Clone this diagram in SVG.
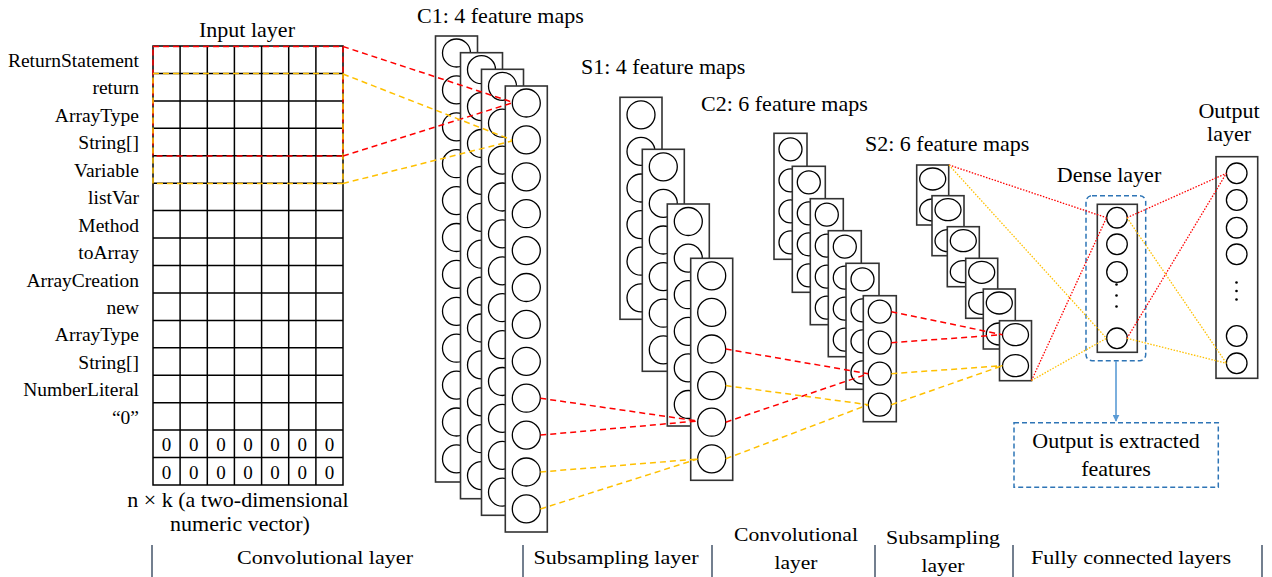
<svg xmlns="http://www.w3.org/2000/svg" xmlns:xlink="http://www.w3.org/1999/xlink" width="1272" height="577" viewBox="0 0 1272 577">
<style>
text{font-family:"Liberation Serif","Times New Roman",serif;fill:#000}
.lbl{font-size:19.5px;text-anchor:end}
.hd{font-size:22px}
.mid{text-anchor:middle}
.zero{font-size:19px;text-anchor:middle}
.bot{font-size:19px;text-anchor:middle}
.grid{fill:none;stroke:#000;stroke-width:1.5}
.map{fill:#fff;stroke:#333;stroke-width:1.6}
.cir{fill:none;stroke:#000;stroke-width:1.3}
.rd{fill:none;stroke:#ff0000;stroke-width:1.5;stroke-dasharray:6 4}
.og{fill:none;stroke:#ffc000;stroke-width:1.5;stroke-dasharray:6 4}
.rdot{fill:none;stroke:#ff0000;stroke-width:1.3;stroke-dasharray:1.5 1.5}
.odot{fill:none;stroke:#ffc000;stroke-width:1.3;stroke-dasharray:1.5 1.5}
.bar{stroke:#44546a;stroke-width:1.5}
.blue{fill:none;stroke:#2e75b6;stroke-width:1.5;stroke-dasharray:5 3}
</style>
<defs>
<g id="c1map">
<rect class="map" x="0" y="0" width="42" height="446"/>
<circle class="cir" cx="21" cy="17" r="14"/><circle class="cir" cx="21" cy="53.9" r="14"/><circle class="cir" cx="21" cy="90.8" r="14"/><circle class="cir" cx="21" cy="127.7" r="14"/><circle class="cir" cx="21" cy="164.6" r="14"/><circle class="cir" cx="21" cy="201.5" r="14"/><circle class="cir" cx="21" cy="238.4" r="14"/><circle class="cir" cx="21" cy="275.3" r="14"/><circle class="cir" cx="21" cy="312.2" r="14"/><circle class="cir" cx="21" cy="349.1" r="14"/><circle class="cir" cx="21" cy="386" r="14"/><circle class="cir" cx="21" cy="422.9" r="14"/>
</g>
<g id="s1map">
<rect class="map" x="0" y="0" width="42" height="222"/>
<circle class="cir" cx="21" cy="17.5" r="14"/><circle class="cir" cx="21" cy="54.1" r="14"/><circle class="cir" cx="21" cy="90.7" r="14"/><circle class="cir" cx="21" cy="127.3" r="14"/><circle class="cir" cx="21" cy="163.9" r="14"/><circle class="cir" cx="21" cy="200.5" r="14"/>
</g>
<g id="c2map">
<rect class="map" x="0" y="0" width="33" height="126"/>
<circle class="cir" cx="16.5" cy="16" r="11.5"/><circle class="cir" cx="16.5" cy="47" r="11.5"/><circle class="cir" cx="16.5" cy="78" r="11.5"/><circle class="cir" cx="16.5" cy="109" r="11.5"/>
</g>
<g id="s2map">
<rect class="map" x="0" y="0" width="32" height="60"/>
<ellipse class="cir" cx="16" cy="14" rx="13" ry="11"/><ellipse class="cir" cx="16" cy="45" rx="13" ry="11"/>
</g>
<marker id="arr" viewBox="0 0 10 10" refX="9" refY="5" markerWidth="7" markerHeight="7" orient="auto" markerUnits="userSpaceOnUse">
<path d="M0,0 L10,5 L0,10 z" fill="#5b9bd5"/>
</marker>
</defs>

<g id="input-layer">
<text class="hd mid" x="247" y="37">Input layer</text>
<rect class="grid" x="153" y="46" width="190" height="439"/>
<path class="grid" d="M180.1,46V485M207.3,46V485M234.4,46V485M261.6,46V485M288.7,46V485M315.9,46V485
M153,73.4H343M153,100.9H343M153,128.3H343M153,155.8H343M153,183.2H343M153,210.6H343M153,238.1H343M153,265.5H343M153,292.9H343M153,320.4H343M153,347.8H343M153,375.3H343M153,402.7H343M153,430.1H343M153,457.6H343"/>
<rect class="rd" x="153" y="46.5" width="190" height="109.5"/>
<rect class="og" x="153" y="73.5" width="190" height="110"/>
<text class="lbl" x="139" y="66.5">ReturnStatement</text>
<text class="lbl" x="139" y="94">return</text>
<text class="lbl" x="139" y="121.5">ArrayType</text>
<text class="lbl" x="139" y="149">String[]</text>
<text class="lbl" x="139" y="176.5">Variable</text>
<text class="lbl" x="139" y="204">listVar</text>
<text class="lbl" x="139" y="231.5">Method</text>
<text class="lbl" x="139" y="259">toArray</text>
<text class="lbl" x="139" y="286.5">ArrayCreation</text>
<text class="lbl" x="139" y="313.5">new</text>
<text class="lbl" x="139" y="341">ArrayType</text>
<text class="lbl" x="139" y="368.5">String[]</text>
<text class="lbl" x="139" y="396">NumberLiteral</text>
<text class="lbl" x="139" y="423.5">“0”</text>
<text class="zero" x="166.6" y="451">0</text><text class="zero" x="193.7" y="451">0</text><text class="zero" x="220.9" y="451">0</text><text class="zero" x="248" y="451">0</text><text class="zero" x="275.1" y="451">0</text><text class="zero" x="302.3" y="451">0</text><text class="zero" x="329.4" y="451">0</text>
<text class="zero" x="166.6" y="478.5">0</text><text class="zero" x="193.7" y="478.5">0</text><text class="zero" x="220.9" y="478.5">0</text><text class="zero" x="248" y="478.5">0</text><text class="zero" x="275.1" y="478.5">0</text><text class="zero" x="302.3" y="478.5">0</text><text class="zero" x="329.4" y="478.5">0</text>
<text class="hd mid" x="238" y="507">n × k (a two-dimensional</text>
<text class="hd mid" x="240" y="531">numeric vector)</text>
</g>

<g id="c1-layer">
<text class="hd" x="417" y="23">C1: 4 feature maps</text>
<use xlink:href="#c1map" x="435.5" y="36"/>
<use xlink:href="#c1map" x="460.5" y="52.7"/>
<use xlink:href="#c1map" x="481.5" y="69.3"/>
<use xlink:href="#c1map" x="505.3" y="86"/>
</g>

<g id="s1-layer">
<text class="hd" x="581" y="74">S1: 4 feature maps</text>
<use xlink:href="#s1map" x="620" y="97.3"/>
<use xlink:href="#s1map" x="642.3" y="149.3"/>
<use xlink:href="#s1map" x="667.3" y="204"/>
<use xlink:href="#s1map" x="690.7" y="258.3"/>
</g>

<g id="c2-layer">
<text class="hd" x="701" y="111">C2: 6 feature maps</text>
<use xlink:href="#c2map" x="774" y="133.3"/>
<use xlink:href="#c2map" x="792.3" y="166.3"/>
<use xlink:href="#c2map" x="810.3" y="198.7"/>
<use xlink:href="#c2map" x="828.3" y="230.7"/>
<use xlink:href="#c2map" x="846" y="263.3"/>
<use xlink:href="#c2map" x="863.3" y="295.7"/>
</g>

<g id="s2-layer">
<text class="hd" x="865" y="151">S2: 6 feature maps</text>
<use xlink:href="#s2map" x="916.7" y="165"/>
<use xlink:href="#s2map" x="932" y="195.7"/>
<use xlink:href="#s2map" x="947.3" y="226.7"/>
<use xlink:href="#s2map" x="965.7" y="258.3"/>
<use xlink:href="#s2map" x="983.3" y="289"/>
<use xlink:href="#s2map" x="999.5" y="320.7"/>
</g>

<g id="dense-layer">
<text class="hd mid" x="1109" y="182">Dense layer</text>
<rect class="blue" x="1086" y="195.7" width="59.7" height="165" rx="6"/>
<rect class="map" x="1097.3" y="204.3" width="40" height="148"/>
<circle class="cir" cx="1117" cy="217.7" r="10.3"/>
<circle class="cir" cx="1117" cy="244.3" r="10.3"/>
<circle class="cir" cx="1117" cy="272" r="10.3"/>
<circle cx="1116.5" cy="284.5" r="1.3"/><circle cx="1116.5" cy="295.5" r="1.3"/><circle cx="1116.5" cy="306.5" r="1.3"/>
<circle class="cir" cx="1117" cy="338.3" r="10.3"/>
</g>

<g id="output-layer">
<text class="hd mid" x="1229" y="118">Output</text>
<text class="hd mid" x="1229" y="141">layer</text>
<rect class="map" x="1216" y="156.7" width="41.7" height="221.6"/>
<circle class="cir" cx="1236.7" cy="173.3" r="10.3"/>
<circle class="cir" cx="1236.7" cy="200" r="10.3"/>
<circle class="cir" cx="1236.7" cy="227.7" r="10.3"/>
<circle class="cir" cx="1236.7" cy="254.3" r="10.3"/>
<circle cx="1236.5" cy="282.5" r="1.3"/><circle cx="1236.5" cy="291" r="1.3"/><circle cx="1236.5" cy="299.5" r="1.3"/>
<circle class="cir" cx="1236.7" cy="336" r="10.3"/>
<circle class="cir" cx="1236.7" cy="363.3" r="10.3"/>
</g>

<g id="extracted-features">
<rect class="blue" x="1014" y="422.7" width="204.3" height="64.6"/>
<text class="hd mid" x="1116" y="448">Output is extracted</text>
<text class="hd mid" x="1116" y="476">features</text>
</g>

<g id="connectors">
<path class="rd" d="M343,46.5L512,102M343,156L512,103"/>
<path class="og" d="M343,74L512,140M343,183.5L512,141"/>
<path class="rd" d="M540.3,398.2L697.7,421M540.3,435.1L697.7,421"/>
<path class="og" d="M540.3,472L697.7,459M540.3,509L697.7,459"/>
<path class="rd" d="M725.7,349L868.3,373.7M725.7,422.2L868.3,373.7"/>
<path class="og" d="M725.7,385.6L868.3,404.7M725.7,458.8L868.3,404.7"/>
<path class="rd" d="M891.3,311.7L1002.5,334.7M891.3,342.7L1002.5,334.7"/>
<path class="og" d="M891.3,373.7L1002.5,365.7M891.3,404.7L1002.5,365.7"/>
<path class="rdot" d="M949,165L1106.5,217.7M1031.5,380.5L1106.5,217.7M1127,217.7L1226.4,173.3M1127,338.3L1226.4,173.3"/>
<path class="odot" d="M949,165L1106.5,338.3M1031.5,380.5L1106.5,338.3M1127,217.7L1226.4,363.3M1127,338.3L1226.4,363.3"/>
<line x1="1116" y1="361" x2="1116" y2="421" stroke="#5b9bd5" stroke-width="1.6" marker-end="url(#arr)"/>
</g>

<g id="stage-labels">
<line class="bar" x1="152" y1="545" x2="152" y2="577"/>
<line class="bar" x1="523" y1="545" x2="523" y2="577"/>
<line class="bar" x1="712" y1="545" x2="712" y2="577"/>
<line class="bar" x1="875" y1="545" x2="875" y2="577"/>
<line class="bar" x1="1013" y1="545" x2="1013" y2="577"/>
<line class="bar" x1="1262" y1="545" x2="1262" y2="577"/>
<text class="bot" x="325" y="564" textLength="176" lengthAdjust="spacingAndGlyphs">Convolutional layer</text>
<text class="bot" x="616" y="564" textLength="165" lengthAdjust="spacingAndGlyphs">Subsampling layer</text>
<text class="bot" x="796" y="541" textLength="124" lengthAdjust="spacingAndGlyphs">Convolutional</text>
<text class="bot" x="796" y="569" textLength="43" lengthAdjust="spacingAndGlyphs">layer</text>
<text class="bot" x="943" y="544" textLength="114" lengthAdjust="spacingAndGlyphs">Subsampling</text>
<text class="bot" x="943" y="572" textLength="43" lengthAdjust="spacingAndGlyphs">layer</text>
<text class="bot" x="1131" y="564" textLength="200" lengthAdjust="spacingAndGlyphs">Fully connected layers</text>
</g>
</svg>
